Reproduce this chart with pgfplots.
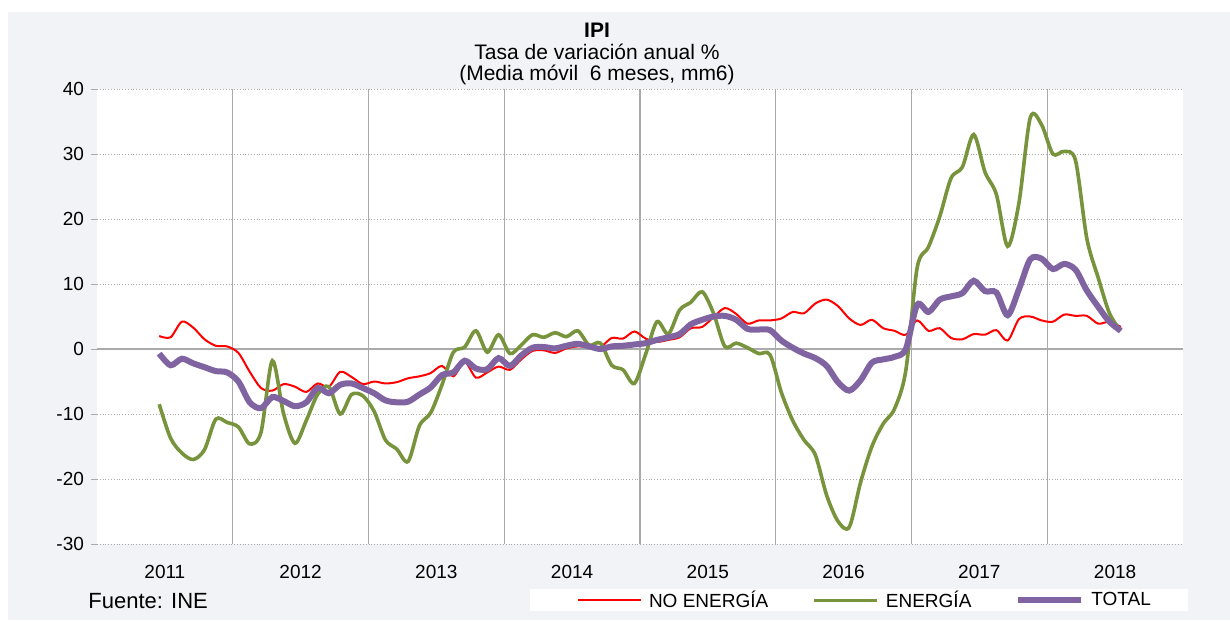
\documentclass[border=0pt]{standalone}
\usepackage{fontspec}
\setmainfont{Liberation Sans}
\usepackage{pgfplots}
\usepackage{pgfplotstable}
\pgfplotsset{compat=1.18}
\definecolor{panel}{RGB}{242,243,247}
\definecolor{cred}{RGB}{255,0,0}
\definecolor{cgreen}{RGB}{119,147,60}
\definecolor{cpurple}{RGB}{128,100,162}
\definecolor{gridc}{RGB}{170,170,170}
% x = month index (Jan 2011 = 0) + 0.5
\pgfplotstableread{
x y
5.5 2.0
6.5 1.8
7.5 4.2
8.5 3.3
9.5 1.5
10.5 0.5
11.5 0.4
12.5 -0.6
13.5 -3.5
14.5 -6.0
15.5 -6.4
16.5 -5.4
17.5 -5.8
18.5 -6.6
19.5 -5.3
20.5 -5.8
21.5 -3.5
22.5 -4.3
23.5 -5.4
24.5 -5.0
25.5 -5.3
26.5 -5.1
27.5 -4.5
28.5 -4.2
29.5 -3.7
30.5 -2.6
31.5 -4.2
32.5 -2.0
33.5 -4.4
34.5 -3.6
35.5 -2.7
36.5 -3.2
37.5 -1.6
38.5 -0.3
39.5 -0.2
40.5 -0.6
41.5 0.1
42.5 0.4
43.5 0.3
44.5 0.3
45.5 1.7
46.5 1.6
47.5 2.7
48.5 1.6
49.5 1.1
50.5 1.4
51.5 1.8
52.5 3.2
53.5 3.4
54.5 4.9
55.5 6.3
56.5 5.4
57.5 3.9
58.5 4.4
59.5 4.4
60.5 4.7
61.5 5.7
62.5 5.5
63.5 7.0
64.5 7.6
65.5 6.6
66.5 4.7
67.5 3.7
68.5 4.5
69.5 3.2
70.5 2.8
71.5 2.2
72.5 4.4
73.5 2.8
74.5 3.2
75.5 1.7
76.5 1.5
77.5 2.3
78.5 2.2
79.5 2.9
80.5 1.3
81.5 4.6
82.5 5.0
83.5 4.4
84.5 4.2
85.5 5.3
86.5 5.1
87.5 5.1
88.5 3.9
89.5 4.2
90.5 3.4
}\noenergia
\pgfplotstableread{
x y
5.5 -8.5
6.5 -13.7
7.5 -16.0
8.5 -17.0
9.5 -15.5
10.5 -10.8
11.5 -11.3
12.5 -12.0
13.5 -14.6
14.5 -12.8
15.5 -1.8
16.5 -10.0
17.5 -14.5
18.5 -11.0
19.5 -7.0
20.5 -5.8
21.5 -10.0
22.5 -7.0
23.5 -7.2
24.5 -9.6
25.5 -14.0
26.5 -15.4
27.5 -17.3
28.5 -11.8
29.5 -9.8
30.5 -5.5
31.5 -0.5
32.5 0.3
33.5 2.8
34.5 -0.5
35.5 2.2
36.5 -0.7
37.5 0.6
38.5 2.2
39.5 1.8
40.5 2.5
41.5 1.9
42.5 2.8
43.5 0.6
44.5 0.9
45.5 -2.5
46.5 -3.2
47.5 -5.3
48.5 -0.8
49.5 4.2
50.5 2.3
51.5 6.0
52.5 7.2
53.5 8.8
54.5 5.5
55.5 0.4
56.5 0.9
57.5 0.2
58.5 -0.7
59.5 -0.9
60.5 -6.7
61.5 -11.0
62.5 -14.0
63.5 -16.3
64.5 -22.5
65.5 -26.5
66.5 -27.4
67.5 -20.5
68.5 -15.0
69.5 -11.5
70.5 -9.2
71.5 -3.3
72.5 12.5
73.5 15.7
74.5 20.4
75.5 26.3
76.5 28.0
77.5 33.0
78.5 27.2
79.5 23.8
80.5 15.8
81.5 22.5
82.5 35.6
83.5 34.5
84.5 30.0
85.5 30.4
86.5 29.0
87.5 17.0
88.5 11.0
89.5 5.5
90.5 2.8
}\energia
\pgfplotstableread{
x y
5.5 -0.7
6.5 -2.5
7.5 -1.5
8.5 -2.2
9.5 -2.8
10.5 -3.4
11.5 -3.6
12.5 -5.0
13.5 -8.2
14.5 -9.1
15.5 -7.4
16.5 -8.0
17.5 -8.8
18.5 -8.2
19.5 -6.0
20.5 -6.8
21.5 -5.5
22.5 -5.3
23.5 -6.0
24.5 -6.8
25.5 -7.9
26.5 -8.2
27.5 -8.1
28.5 -7.0
29.5 -5.9
30.5 -4.0
31.5 -3.6
32.5 -1.8
33.5 -3.0
34.5 -3.1
35.5 -1.4
36.5 -2.6
37.5 -1.0
38.5 0.2
39.5 0.3
40.5 0.1
41.5 0.5
42.5 0.8
43.5 0.4
44.5 0.0
45.5 0.4
46.5 0.5
47.5 0.7
48.5 0.9
49.5 1.4
50.5 1.8
51.5 2.3
52.5 3.8
53.5 4.5
54.5 5.0
55.5 5.1
56.5 4.5
57.5 3.1
58.5 3.0
59.5 2.9
60.5 1.3
61.5 0.2
62.5 -0.7
63.5 -1.4
64.5 -2.6
65.5 -5.1
66.5 -6.4
67.5 -4.8
68.5 -2.1
69.5 -1.6
70.5 -1.2
71.5 0.0
72.5 6.8
73.5 5.7
74.5 7.6
75.5 8.1
76.5 8.6
77.5 10.5
78.5 8.9
79.5 8.7
80.5 5.2
81.5 9.2
82.5 13.8
83.5 13.9
84.5 12.3
85.5 13.1
86.5 12.2
87.5 9.0
88.5 6.5
89.5 4.2
90.5 2.8
}\total
\begin{document}
\begin{tikzpicture}
\fill[white] (0pt,0pt) rectangle (615pt,-311pt);
\fill[panel] (4pt,-6pt) rectangle (615pt,-310pt);
\fill[white] (265pt,-294.5pt) rectangle (594pt,-305.5pt);
\node[font=\bfseries\fontsize{10.5}{12}\selectfont] at (298.5pt,-15pt) {IPI};
\node[font=\fontsize{10.5}{12}\selectfont] at (298.5pt,-26pt) {Tasa de variación anual \%};
\node[font=\fontsize{10.5}{12}\selectfont] at (298.5pt,-37.5pt) {(Media móvil\ \ 6 meses, mm6)};
\node[font=\fontsize{11}{12}\selectfont, anchor=west, inner sep=0pt] at (44pt,-300.5pt) {Fuente: INE};
\begin{axis}[
  at={(48.5pt,-272pt)}, anchor=south west,
  scale only axis, width=543pt, height=227.5pt,
  xmin=0, xmax=96, ymin=-30, ymax=40,
  axis background/.style={fill=white},
  x axis line style={draw=none},
  y axis line style={gridc},
  xtick={6,18,30,42,54,66,78,90},
  xticklabels={2011,2012,2013,2014,2015,2016,2017,2018},
  x tick style={draw=none},
  extra x ticks={12,24,36,48,60,72,84},
  extra x tick labels={},
  extra x tick style={grid=major, major grid style={solid, gridc, line width=0.6pt}, tick style={draw=none}},
  ytick={-30,-20,...,40},
  ymajorgrids,
  major grid style={densely dotted, gridc, line width=0.5pt},
  extra y ticks={0},
  extra y tick labels={},
  extra y tick style={grid=major, major grid style={solid, gridc, line width=0.6pt}},
  ytick pos=left,
  tick align=outside,
  major tick length=3pt,
  y tick style={gridc},
  /pgf/number format/assume math mode=true,
  tick label style={font=\fontsize{9.5}{10}\selectfont},
  xticklabel style={yshift=-4pt},
  legend columns=3,
  legend cell align=left,
  legend image code/.code={\draw[#1, line cap=butt] (0pt,0pt) -- (31.5pt,0pt);},
  legend style={at={(0.442,-0.124)}, anchor=west, draw=none, fill=none,
    inner sep=0pt, outer sep=0pt, font=\fontsize{9.5}{10}\selectfont,
    /tikz/every even column/.append style={column sep=20pt},
    /tikz/every odd column/.append style={column sep=1.5pt}},
]
\addplot[cred, line width=1pt, smooth] table[x=x,y=y] {\noenergia};
\addlegendentry{NO ENERGÍA}
\addplot[cgreen, line width=1.8pt, smooth] table[x=x,y=y] {\energia};
\addlegendentry{ENERGÍA}
\addplot[cpurple, line width=3pt, smooth] table[x=x,y=y] {\total};
\addlegendentry{TOTAL}
\end{axis}
\end{tikzpicture}
\end{document}
